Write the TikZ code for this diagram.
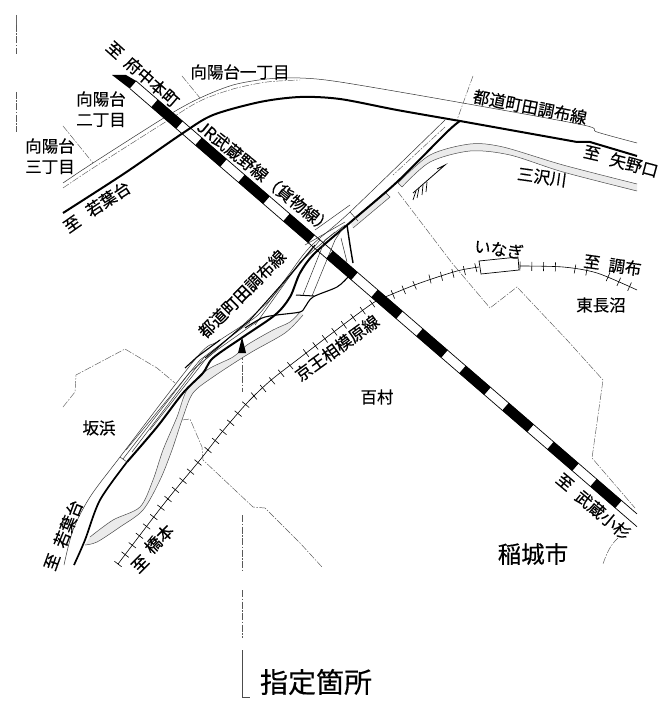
\documentclass[tikz,border=0pt]{standalone}
\usepackage{fontspec}
\newfontfamily\jp[FakeBold=0.3]{Noto Sans CJK JP}
\tikzset{
 lbl/.style={inner sep=0pt,font=\jp\fontsize{16.5}{17}\selectfont,text=black},
 biglbl/.style={inner sep=0pt,font=\jp\fontsize{23.5}{25}\selectfont},
 hugelbl/.style={inner sep=0pt,font=\jp\fontsize{28}{30}\selectfont},
 thin line/.style={line width=0.5pt,black!80},
 bound/.style={line width=0.45pt,black!65,dash pattern=on 7pt off 1.5pt on 1.5pt off 1.5pt},
 heavy/.style={line width=2pt,black,line join=round},
 river/.style={fill=black!8,draw=none},
 rivedge/.style={line width=0.5pt,black!70},
 railline/.style={line width=0.6pt}
}
\newcommand{\tickseg}[4]{%
 \pgfmathsetmacro\dx{#3-#1}\pgfmathsetmacro\dy{#4-#2}
 \pgfmathsetmacro\seglen{sqrt(\dx*\dx+\dy*\dy)}
 \pgfmathsetmacro\ux{\dx/\seglen}\pgfmathsetmacro\uy{\dy/\seglen}
 \pgfmathtruncatemacro\nt{floor(\seglen/11.8)}
 \foreach \k in {0,...,\nt}{
  \pgfmathsetmacro\cx{#1+\k*11.8*\ux}\pgfmathsetmacro\cy{#2+\k*11.8*\uy}
  \draw[railline] ({\cx-4.5*\uy},{\cy+4.5*\ux})--({\cx+4.5*\uy},{\cy-4.5*\ux});
 }}
\begin{document}
\begin{tikzpicture}[x=1pt,y=-1pt]
\useasboundingbox (0,0) rectangle (667,708);
\fill[white] (0,0) rectangle (667,708);
% boundaries
\draw[bound] (16,25)--(16,54);
\draw[line width=0.7pt,black!60] (16,15)--(16,25);
\draw[bound,line width=0.6pt] (16,92)--(16,132);
\draw[bound] (182,76)--(200,98);
\draw[bound] (63,126)--(93,163);
\draw[bound] (473,76)--(457,120);
\draw[bound] (398,192)--(452,263)--(490,308)--(517,287)--(567,340)--(603,380)--(592,458)--(635,508);
\draw[bound] (618,538) .. controls (610,545) and (606,555) .. (603,564);
\draw[bound] (63,407)--(75,392)--(76,375)--(125,349)--(157,368)--(175,383);
\draw[bound] (182,420)--(190,419)--(202,447)--(203,460)--(253,507)--(265,508)--(300,543)--(322,567);
\draw[bound] (242,353)--(242,392);
\draw[bound] (242,515)--(242,570);
\draw[bound] (242,590)--(242,638);
\draw[line width=0.7pt,black!70] (242,650)--(242,697)--(250,697);
% upper thin road edge
\draw[thin line] plot[smooth] coordinates {(63,183)(93,163)(167,116)(200,98)(233,85)(267,79)(300,78)(340,82)(457,102)(583,125)(597,132)(637,143)};
\draw[bound] plot[smooth] coordinates {(63,188)(93,168)(167,121)(200,101)(233,89)(267,82)(300,80)};
% main heavy road
\draw[heavy] plot[smooth] coordinates {(63,213)(125,173)(183,133)(213,115)(260,102)(300,97)(340,99)(397,110)(460,121)};
\draw[heavy] (460,121)--(577,142)--(590,142)--(637,156);
% Misawa river upper
\fill[river] plot[smooth] coordinates {(398,183)(430,155)(470,144)(503,147)(563,165)(637,184)} -- plot[smooth] coordinates {(637,191)(563,172)(510,155)(470,151)(430,162)(402,187)} -- cycle;
\draw[rivedge] plot[smooth] coordinates {(398,183)(430,155)(470,144)(503,147)(563,165)(637,184)};
\draw[rivedge] plot[smooth] coordinates {(402,187)(430,162)(470,151)(510,155)(563,172)(637,191)};
\draw[rivedge] (398,183)--(402,187);
% flow arrow
\draw[line width=0.8pt] (413,193)--(445,165)--(437,169);
\foreach \a/\b/\c/\d in {413/200/416/191,417/198/419/188,422/195/423/185,426/192/427/182}{\draw[line width=0.7pt] (\a,\b)--(\c,\d);}
% river lower
\fill[river] plot[smooth] coordinates {(300,312)(290,322)(273,330)(247,345)(233,357)(207,370)(187,390)(177,417)(163,450)(153,480)(140,507)(113,520)(90,537)} -- plot[smooth] coordinates {(85,545)(97,542)(120,527)(143,510)(160,480)(172,450)(183,417)(193,393)(213,377)(250,353)(285,333)(303,315)} -- cycle;
\draw[rivedge] plot[smooth] coordinates {(300,312)(290,322)(273,330)(247,345)(233,357)(207,370)(187,390)(177,417)(163,450)(153,480)(140,507)(113,520)(90,537)};
\draw[rivedge] plot[smooth] coordinates {(85,545)(97,542)(120,527)(143,510)(160,480)(172,450)(183,417)(193,393)(213,377)(250,353)(285,333)(303,315)};
\fill[river] (353,228)--(390,197)--(385,192)--(350,222)--cycle;
\draw[rivedge] (353,228)--(390,197)--(385,192)--(350,222);
% road pair
\draw[thin line] plot[smooth] coordinates {(445,120)(350,212)(310,247)(287,277)(260,313)(240,327)(217,342)(197,357)(120,457)(90,497)(73,530)(64,565)};
\draw[bound] (445,127)--(393,175);
\draw[heavy] plot[smooth] coordinates {(460,121)(447,132)(397,182)(353,220)(315,253)(300,273)(290,297)(275,315)(243,337)(213,358)(203,373)(183,393)(157,427)(127,462)};
\draw[line width=1.7pt] plot[smooth] coordinates {(127,462)(100,500)(85,540)(74,565)};
% hatching / junction detail
\draw[thin line] (120,457)--(127,462);
\draw[thin line] (123,459)--(190,372)--(217,350)--(262,318);
\draw[thin line] (126,450)--(200,360)--(250,322);
\draw[thin line] (132,452)--(205,356);
\draw[thin line] (150,430)--(205,360)--(270,300)--(320,240);
\draw[thin line] (255,325)--(300,262)--(335,232);
\draw[line width=1pt] (205,358)--(250,320)--(290,275)--(315,245);
\draw[line width=1.1pt] (185,368)--(197,357)--(220,340);
\draw[thin line] (305,245)--(345,222);
\draw[thin line] (315,230)--(350,205);
\draw[thin line] (350,212)--(358,221);
% south branch
\draw[thin line] (303,295)--(325,240)--(345,225);
\draw[thin line] (312,296)--(335,240)--(343,228);
\draw[thin line] (341,238)--(347,262);
\draw[line width=1.4pt] plot[smooth] coordinates {(347,225)(350,245)(353,263)};
\draw[line width=1.1pt] plot[smooth] coordinates {(348,277)(337,287)(313,297)(305,307)(300,312)(277,315)(262,318)(245,328)};
\draw[line width=1pt] (296,295)--(314,296);
% marker
\fill (242,337)--(246,353)--(238,353)--cycle;
% Keio line
\draw[railline] plot[smooth] coordinates {(118,564)(140,535)(163,505)(180,484)(200,460)(222,432)(247,403)(270,381)(297,360)(335,331)(373,303)(390,295)(420,283)(457,271)(479,267)};
\draw[railline] plot[smooth] coordinates {(520,266)(563,267)(597,273)(637,290)};
\tickseg{118}{564}{163}{505}
\tickseg{168}{499}{200}{460}
\tickseg{208}{450}{247}{403}
\tickseg{254}{396}{297}{360}
\tickseg{306}{353}{373}{303}
\tickseg{382}{299}{420}{283}
\tickseg{430}{279}{479}{267}
\tickseg{520}{266}{563}{267}
\tickseg{575}{269}{597}{273}
\tickseg{608}{277}{637}{290}
\draw[line width=0.7pt,fill=white] (479,261)--(518,257)--(519,270)--(481,274)--cycle;
% Musashino line
\foreach \xc in {167,211,254,299,342,387,432,475,518,563,606}{
 \pgfmathsetmacro\ya{86.5+0.864*(\xc-12.5-135)}
 \pgfmathsetmacro\yb{86.5+0.864*(\xc+12.5-135)}
 \pgfmathsetmacro\xa{\xc-12.5}
 \pgfmathsetmacro\xb{\xc+12.5}
 \draw[line width=10pt,black] (\xa,\ya)--(\xb,\yb);
}
\fill (112,75)--(126,75)--(136.3,81)--(129.7,88.6)--cycle;
\draw[line width=0.7pt] (136,80.9)--(637,513.9);
\draw[line width=0.7pt] (130,88.7)--(637,526.7);
% labels
\node[lbl,rotate=-42] (a1) at (115,50) {至};
\node[lbl,rotate=-41] (a2) at (152,82) {府中本町};
\node[lbl] (b1) at (240,72) {向陽台一丁目};
\node[lbl] (b2) at (101,99) {向陽台};
\node[lbl] (b3) at (101,120) {二丁目};
\node[lbl] (b4) at (50,146) {向陽台};
\node[lbl] (b5) at (50,167) {三丁目};
\node[lbl,rotate=35] (c1) at (72,224) {至};
\node[lbl,rotate=33] (c2) at (108,199) {若葉台};
\node[lbl,rotate=-39] (d1) at (265,177) {JR武蔵野線（貨物線）};
\node[lbl,rotate=-11] (e1) at (530,107) {都道町田調布線};
\node[lbl,rotate=-13] (f1) at (592,153) {至};
\node[lbl,rotate=-15] (f2) at (634,165) {矢野口};
\node[lbl,rotate=-8] (g1) at (542,177) {三沢川};
\node[lbl,rotate=-8] (h1) at (499,249) {いなぎ};
\node[lbl,rotate=-8] (i1) at (592,262) {至};
\node[lbl,rotate=-8] (i2) at (625,267) {調布};
\node[lbl] (j1) at (601,305) {東長沼};
\node[lbl] (k1) at (377,397) {百村};
\node[lbl] (l1) at (99,428) {坂浜};
\node[biglbl] (m1) at (533,554) {稲城市};
\node[hugelbl] (n1) at (316,682) {指定箇所};
\node[lbl,rotate=36] (o1) at (337,348) {京王相模原線};
\node[lbl,rotate=45] (p1) at (242,294) {都道町田調布線};
\node[lbl,rotate=70] (q1) at (52,562) {至};
\node[lbl,rotate=68] (q2) at (68,524) {若葉台};
\node[lbl,rotate=45] (r1) at (140,564) {至};
\node[lbl,rotate=45] (r2) at (159,539) {橋本};
\node[lbl,rotate=-40] (s1) at (565,482) {至};
\node[lbl,rotate=-40] (s2) at (603,515) {武蔵小杉};
\end{tikzpicture}
\end{document}
